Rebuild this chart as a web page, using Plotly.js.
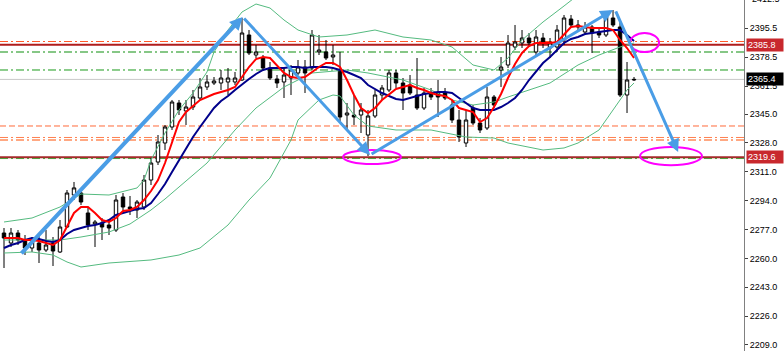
<!DOCTYPE html>
<html><head><meta charset="utf-8">
<script src="https://cdn.plot.ly/plotly-3.0.1.min.js"></script>
<style>html,body{margin:0;padding:0;background:#fff}#chart{width:784px;height:351px}</style>
</head><body><div id="chart"></div>
<script>
// ---- candle data (bar index 0..90) ----
const opens  = [2274.94,2269.05,2274.94,2270.82,2266.11,2269.05,2264.93,2269.05,2263.76,2278.48,
                2297.32,2298.50,2286.73,2280.25,2280.84,2279.66,2276.71,2296.15,2290.26,2288.49,
                2290.26,2306.15,2316.75,2327.95,2337.37,2351.51,2346.80,2349.15,2354.45,2360.94,
                2363.29,2363.29,2363.88,2363.88,2365.06,2391.56,2379.78,2378.01,2372.12,2365.65,
                2363.88,2366.23,2369.18,2372.71,2372.12,2381.55,2381.55,2378.60,2370.95,2344.44,
                2344.44,2344.44,2332.66,2343.85,2356.22,2359.17,2369.18,2363.29,2362.11,2356.22,
                2348.56,2357.40,2357.40,2357.40,2350.33,2341.49,2327.95,2348.56,2339.73,2336.78,
                2355.04,2370.95,2373.89,2384.49,2386.85,2389.79,2381.55,2389.79,2383.90,2384.49,
                2388.61,2400.98,2397.45,2393.33,2396.27,2393.33,2391.56,2401.57,2396.27,2356.22,
                2365.06];
const highs  = [2277.89,2277.89,2276.71,2273.77,2272.59,2273.77,2276.71,2272.59,2282.60,2300.27,
                2305.00,2300.27,2289.67,2282.60,2283.78,2282.60,2297.32,2298.50,2296.74,2294.38,
                2309.10,2319.11,2332.66,2338.55,2353.28,2353.28,2353.28,2359.17,2366.23,2368.00,
                2366.82,2370.95,2372.12,2369.77,2401.57,2394.50,2385.67,2379.78,2375.66,2368.00,
                2372.12,2373.89,2376.83,2376.83,2394.50,2391.56,2388.61,2385.67,2381.55,2351.51,
                2356.22,2351.51,2347.39,2359.17,2362.11,2370.95,2370.95,2366.23,2368.00,2378.01,
                2360.35,2360.35,2365.06,2360.35,2353.28,2347.39,2347.39,2350.33,2342.67,2360.94,
                2356.22,2378.60,2391.56,2397.45,2394.50,2392.74,2394.50,2392.74,2389.79,2397.45,
                2403.34,2403.34,2400.39,2399.21,2397.45,2395.68,2405.10,2406.28,2399.21,2375.66,
                2366.82];
const lows   = [2254.33,2266.70,2267.87,2261.99,2263.76,2257.28,2263.76,2255.51,2263.17,2277.89,
                2294.38,2291.44,2276.71,2266.70,2270.82,2273.77,2275.53,2288.49,2285.55,2283.78,
                2288.49,2303.21,2314.99,2323.83,2335.61,2344.44,2338.55,2347.39,2353.28,2359.17,
                2362.11,2359.17,2356.22,2362.11,2364.47,2379.78,2378.01,2370.95,2365.06,2360.35,
                2354.45,2356.22,2368.00,2357.40,2370.95,2379.78,2376.83,2373.89,2340.32,2335.61,
                2338.55,2333.84,2320.29,2342.67,2353.28,2357.99,2360.35,2347.39,2356.22,2347.39,
                2347.39,2353.28,2343.26,2353.28,2339.73,2328.54,2325.59,2338.55,2333.84,2335.61,
                2348.56,2360.94,2372.12,2382.72,2383.90,2384.49,2379.78,2383.90,2378.01,2381.55,
                2385.67,2396.27,2394.50,2391.56,2380.96,2389.79,2390.38,2396.27,2355.04,2345.62,
                2364.47];
const closes = [2272.00,2274.94,2270.82,2266.11,2269.64,2264.93,2267.87,2264.34,2278.48,2298.50,
                2301.50,2293.20,2279.66,2281.43,2278.48,2277.89,2294.38,2290.26,2289.08,2293.20,
                2306.15,2316.16,2328.54,2337.37,2352.10,2347.39,2349.15,2355.04,2360.94,2363.88,
                2364.47,2366.23,2366.23,2366.23,2392.74,2380.96,2381.55,2372.12,2366.23,2363.29,
                2368.00,2370.95,2372.71,2369.18,2391.56,2382.72,2378.01,2379.78,2343.26,2345.62,
                2343.26,2347.39,2343.85,2356.22,2360.35,2369.18,2363.29,2357.40,2357.40,2348.56,
                2357.40,2355.04,2355.04,2354.45,2341.49,2331.48,2341.49,2339.73,2335.61,2355.04,
                2350.33,2372.71,2386.85,2387.44,2389.79,2386.85,2390.38,2386.85,2386.85,2394.50,
                2401.57,2397.45,2396.27,2396.27,2392.74,2391.56,2402.16,2397.45,2356.22,2365.06,
                2365.40];

// ---- moving averages read per bar ----
const maFast = [2272.00,2272.00,2272.00,2270.82,2270.82,2270.23,2269.05,2267.87,2270.82,2279.07,
                2286.73,2290.26,2290.26,2286.73,2282.60,2281.43,2283.78,2287.91,2288.49,2290.26,
                2294.38,2299.69,2306.15,2316.16,2328.54,2340.32,2346.21,2349.75,2353.28,2355.04,
                2356.81,2357.99,2359.17,2360.94,2366.50,2372.71,2377.40,2378.60,2378.01,2373.30,
                2369.18,2366.82,2366.23,2366.82,2369.77,2372.71,2375.07,2375.07,2372.71,2365.06,
                2356.22,2348.56,2345.62,2348.56,2353.28,2356.81,2359.76,2360.94,2362.11,2360.35,
                2359.17,2357.40,2356.22,2355.63,2353.28,2348.56,2347.39,2346.21,2340.32,2342.67,
                2349.15,2356.81,2366.23,2374.48,2380.96,2385.08,2386.85,2386.85,2386.85,2387.44,
                2392.15,2396.27,2396.86,2396.27,2395.68,2395.68,2395.68,2394.50,2388.61,2383.90,
                2378.01];
const maSlow = [2266.11,2267.87,2269.05,2270.82,2272.00,2271.41,2270.23,2269.64,2270.82,2274.36,
                2276.71,2277.89,2279.07,2279.66,2280.84,2282.60,2285.55,2286.73,2287.91,2289.08,
                2289.67,2292.62,2297.91,2303.80,2310.86,2317.93,2325.01,2331.48,2337.37,2342.67,
                2348.56,2352.69,2355.63,2359.17,2362.70,2365.65,2368.59,2370.95,2372.12,2372.12,
                2372.12,2372.71,2372.71,2372.12,2372.71,2372.71,2372.71,2372.12,2370.95,2369.77,
                2368.00,2366.23,2362.11,2359.76,2357.40,2355.63,2353.87,2353.28,2354.45,2355.63,
                2356.81,2357.40,2357.99,2357.99,2357.40,2354.45,2351.51,2348.56,2347.39,2347.39,
                2347.39,2349.15,2351.51,2354.45,2359.17,2365.06,2370.36,2375.07,2378.60,2382.72,
                2386.85,2389.20,2390.38,2392.15,2392.74,2393.33,2393.91,2394.50,2394.50,2391.56,
                2388.02];

// ---- Bollinger-style bands (bar index, price) ----
const bandUpX = [0,4,8,11,15,19,20,21,23,25,27,29,30,32,34,36,38,40,42,45,49,53,57,61,64,67,70,72,74,77,80,82,86,90];
const bandUpY = [2281.43,2283.78,2290.26,2297.91,2297.32,2301.46,2306.15,2317.93,2333.84,2347.39,2357.40,2369.77,2381.55,2394.50,2405.10,2409.81,2407.46,2400.39,2394.50,2390.38,2391.56,2394.50,2390.38,2388.61,2384.49,2373.89,2370.95,2378.01,2388.61,2399.21,2408.64,2415.10,2419.20,2413.30];
const bandMidX = [0,4,8,11,15,18,21,23,26,29,33,36,40,44,49,52,57,61,64,67,70,72,78,82,85,88,90];
const bandMidY = [2270.82,2270.82,2270.82,2272.59,2275.53,2280.25,2288.49,2294.97,2305.58,2316.16,2335.61,2348.56,2360.94,2369.18,2370.95,2369.18,2365.06,2359.17,2353.28,2350.33,2352.10,2355.04,2363.29,2373.89,2379.78,2384.49,2386.85];
const bandLoX = [0,4,7,9,11,15,21,25,28,32,35,38,41,42,45,47,48,50,52,56,61,66,70,72,77,80,82,85,87,89,90];
const bandLoY = [2263.17,2263.76,2261.99,2257.88,2254.92,2257.28,2259.06,2261.99,2266.11,2279.66,2294.38,2307.33,2329.72,2341.49,2353.28,2356.22,2355.63,2344.44,2337.97,2335.61,2335.61,2331.48,2330.90,2327.95,2323.83,2325.01,2327.95,2335.61,2347.39,2359.17,2363.29];

// ---- horizontal levels ----
const levelPrice = [2387.73, 2385.80, 2381.55, 2370.95, 2365.40, 2337.97, 2331.20, 2329.72, 2319.60, 2318.80];
const levelColor = ['#ff5a2a','#b01c1c','#86c786','#1a9a1a','#c8c8c8','#ff6a3a','#ff8050','#ffa882','#a52a2a','#4e9a3a'];
const levelWidth = [1, 2, 2, 1, 1, 1, 1, 2, 2, 1];
const levelDash  = ['8px,3px,2px,3px','solid','8px,3px,2px,3px','8px,3px,2px,3px','solid','6px,3px','8px,3px,2px,3px','8px,3px,2px,3px','solid','8px,3px,2px,3px'];

// ---- price tags on axis ----
const tagPrice = [2385.8, 2365.4, 2319.6];
const tagText  = ['2385.8', '2365.4', '2319.6'];
const tagColor = ['#c8282d', '#000000', '#c8282d'];

// ---- axis ticks ----
const tickVals = [2395.5, 2378.5, 2361.5, 2345.0, 2328.0, 2311.0, 2294.0, 2277.0, 2260.0, 2243.0, 2226.0, 2209.0];
const tickText = ['2395.5','2378.5','2361.5','2345.0','2328.0','2311.0','2294.0','2277.0','2260.0','2243.0','2226.0','2209.0'];
const topTickVal = 2412.5, topTickText = '2412.5';
const yRange = [2205.45, 2412.17];

// ---- drawn arrows (tail -> head), bar index / price ----
const arrTailX = [2.29, 34.1, 52.3, 87.3];
const arrTailY = [2262.0, 2402.2, 2320.9, 2406.3];
const arrHeadX = [34.1, 52.3, 87.0, 96.3];
const arrHeadY = [2402.2, 2320.9, 2406.3, 2322.6];
const arrWidth = [4, 3, 3, 3];

// ---- ellipses ----
const ellX0 = [48.43, 89.43, 90.86];
const ellX1 = [56.71, 93.57, 99.71];
const ellY0 = [2315.6, 2381.5, 2314.9];
const ellY1 = [2323.8, 2392.7, 2325.6];

const barIdx = closes.map((_, i) => i);
const labelFont = 'Liberation Sans, Arial, sans-serif';

const traces = [
  {type:'scatter', mode:'lines', x:bandUpX, y:bandUpY, line:{color:'#55bb80', width:1}, hoverinfo:'skip'},
  {type:'scatter', mode:'lines', x:bandMidX, y:bandMidY, line:{color:'#55bb80', width:1}, hoverinfo:'skip'},
  {type:'scatter', mode:'lines', x:bandLoX, y:bandLoY, line:{color:'#55bb80', width:1}, hoverinfo:'skip'},
  {type:'candlestick', x:barIdx, open:opens, high:highs, low:lows, close:closes,
   increasing:{line:{color:'#000000', width:1}, fillcolor:'#ffffff'},
   decreasing:{line:{color:'#000000', width:1}, fillcolor:'#000000'},
   whiskerwidth:0, hoverinfo:'skip'},
  {type:'scatter', mode:'lines', x:barIdx, y:maSlow, line:{color:'#00008b', width:2}, hoverinfo:'skip'},
  {type:'scatter', mode:'lines', x:barIdx, y:maFast, line:{color:'#ff0000', width:2}, hoverinfo:'skip'}
];

const shapes = [];
levelPrice.forEach((p, i) => shapes.push({type:'line', xref:'paper', x0:0, x1:1, yref:'y', y0:p, y1:p,
  layer:'below', line:{color:levelColor[i], width:levelWidth[i], dash:levelDash[i]}}));
ellX0.forEach((x0, i) => shapes.push({type:'circle', xref:'x', yref:'y', x0:x0, x1:ellX1[i], y0:ellY0[i], y1:ellY1[i],
  line:{color:'#ff00ff', width:2}, fillcolor:'rgba(0,0,0,0)'}));

const annotations = [];
arrTailX.forEach((tx, i) => annotations.push({xref:'x', yref:'y', axref:'x', ayref:'y',
  x:arrHeadX[i], y:arrHeadY[i], ax:tx, ay:arrTailY[i], text:'', showarrow:true,
  arrowhead:2, arrowsize: 3/arrWidth[i]*0.8 + 0.05, arrowwidth:arrWidth[i], arrowcolor:'#4a9de6', standoff:0, startstandoff:0}));
tagPrice.forEach((p, i) => annotations.push({xref:'paper', x:1, xanchor:'left', xshift:2, yref:'y', y:p, yanchor:'middle',
  text:tagText[i], showarrow:false, bgcolor:tagColor[i], borderpad:1, width:34, align:'left',
  font:{family:labelFont, size:9, color:'#ffffff'}}));
// top tick label, sitting half above the plot as in the original
annotations.push({xref:'paper', x:1, xanchor:'left', xshift:6, yref:'paper',
  y:(topTickVal - yRange[0]) / (yRange[1] - yRange[0]), yanchor:'middle',
  text:topTickText, showarrow:false, font:{family:labelFont, size:9, color:'#000'}});

const layout = {
  width:784, height:351, margin:{l:0, r:40, t:0, b:0},
  paper_bgcolor:'#ffffff', plot_bgcolor:'#ffffff', showlegend:false, hovermode:false,
  xaxis:{range:[-0.571, 105.71], showgrid:false, zeroline:false, showticklabels:false, showline:false, ticks:'',
         rangeslider:{visible:false}, fixedrange:true},
  yaxis:{range:yRange, side:'right', showgrid:false, zeroline:false, showline:true, linecolor:'#808080', linewidth:1,
         ticks:'outside', ticklen:3, tickcolor:'#404040', tickvals:tickVals, ticktext:tickText,
         tickfont:{family:labelFont, size:9, color:'#000'}, fixedrange:true},
  shapes:shapes, annotations:annotations
};

Plotly.newPlot('chart', traces, layout, {staticPlot:true, displayModeBar:false});
</script>
</body></html>
